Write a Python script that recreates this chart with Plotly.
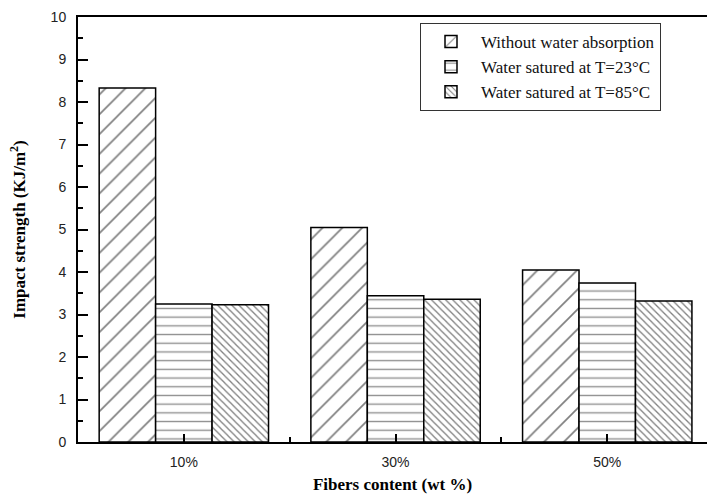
import plotly.graph_objects as go

categories = ["10%", "30%", "50%"]
series_names = ["Without water absorption", "Water satured at T=23°C", "Water satured at T=85°C"]
without_water = [8.33, 5.05, 4.05]
saturated_23 = [3.25, 3.44, 3.74]
saturated_85 = [3.23, 3.36, 3.32]
y_ticks = [0, 1, 2, 3, 4, 5, 6, 7, 8, 9, 10]

series_values = [without_water, saturated_23, saturated_85]
patterns = [
    dict(shape="/", size=14, solidity=0.12, fgcolor="black", bgcolor="white"),
    dict(shape="-", size=8.7, solidity=0.16, fgcolor="#222", bgcolor="white"),
    dict(shape="\\", size=5, solidity=0.26, fgcolor="black", bgcolor="white"),
]

xpos = list(range(len(categories)))
fig = go.Figure()
for name, vals, pat in zip(series_names, series_values, patterns):
    fig.add_trace(go.Bar(
        x=xpos, y=vals, name=name,
        marker=dict(color="white", pattern=pat, line=dict(color="black", width=1.5)),
    ))

W, H = 707, 498
L, R, T, B = 78, 0, 17, 56
plot_w = W - L - R
plot_h = H - T - B
px_per_cat = 211.7
xmax = -0.5 + plot_w / px_per_cat

fig.update_layout(
    width=W, height=H,
    margin=dict(l=L, r=R, t=T, b=B, autoexpand=False),
    paper_bgcolor="white", plot_bgcolor="white",
    barmode="group", bargap=0.2, bargroupgap=0,
    showlegend=True,
    legend=dict(
        x=(420 - L) / plot_w, y=(H - B - 23) / plot_h,
        xanchor="left", yanchor="top",
        bordercolor="#333", borderwidth=1, bgcolor="white",
        font=dict(family="Liberation Serif", size=17, color="#111"),
        itemwidth=50, tracegroupgap=0,
    ),
    xaxis=dict(
        range=[-0.5, xmax], automargin=False,
        tickmode="array", tickvals=xpos, ticktext=categories,
        ticks="inside", ticklen=8, tickwidth=2, tickcolor="black",
        minor=dict(tickmode="array",
                   tickvals=[(a + b) / 2 for a, b in zip(xpos[:-1], xpos[1:])],
                   ticks="inside", ticklen=5, tickwidth=2, tickcolor="black"),
        showline=True, linecolor="black", linewidth=2, mirror=True,
        showgrid=False, zeroline=False,
        ticklabelstandoff=6,
        tickfont=dict(family="Liberation Sans", size=14, color="#222"),
        title=dict(text="Fibers content (wt %)", standoff=9,
                   font=dict(family="Liberation Serif", size=17, color="black", weight="bold")),
    ),
    yaxis=dict(
        range=[0, 10], automargin=False,
        tickmode="array", tickvals=y_ticks, ticktext=[str(v) for v in y_ticks],
        ticks="inside", ticklen=10, tickwidth=2, tickcolor="black",
        minor=dict(dtick=0.5, tick0=0, ticks="inside", ticklen=5, tickwidth=2, tickcolor="black"),
        showline=True, linecolor="black", linewidth=2,
        showgrid=False, zeroline=False,
        ticklabelstandoff=7,
        tickfont=dict(family="Liberation Sans", size=14, color="#222"),
        title=dict(text="Impact strength (KJ/m<sup>2</sup>)", standoff=21,
                   font=dict(family="Liberation Serif", size=17, color="black", weight="bold")),
    ),
)

fig.write_html(
    "out.html",
    config={"displayModeBar": False},
    post_script="document.body.style.margin='0';document.body.style.overflow='hidden';",
)
